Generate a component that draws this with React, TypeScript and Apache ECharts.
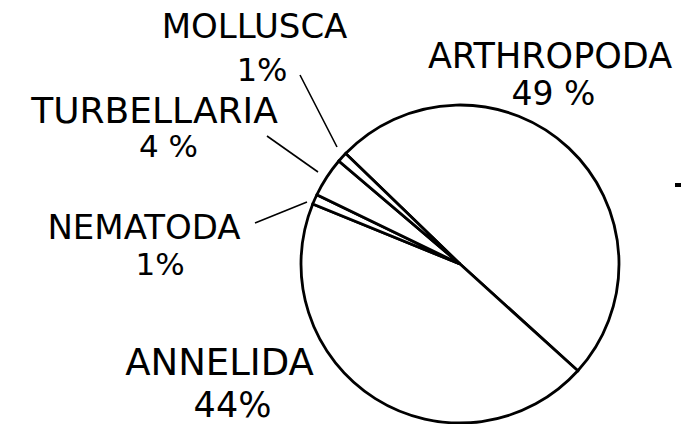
import React, { useEffect, useRef } from "react";
import * as echarts from "echarts";

// ---- data ----
const categories = ["ARTHROPODA", "ANNELIDA", "NEMATODA", "TURBELLARIA", "MOLLUSCA"];
const percents = [49, 44, 1, 4, 1];
const percentGaps = [" ", "", "", " ", ""];

// ---- label layout (annotation positions, not data) ----
type LabelCfg = {
  x: number;
  y: number;
  lh: number;
  nameSize: number;
  pctSize: number;
  pctShift: number;
  line: number[][] | null;
};
const labelCfg: LabelCfg[] = [
  { x: 550, y: 74.5, lh: 38, nameSize: 35, pctSize: 33, pctShift: 3.5, line: null },
  { x: 219.5, y: 383.5, lh: 42, nameSize: 37, pctSize: 35, pctShift: 13, line: null },
  { x: 144, y: 245.5, lh: 36.5, nameSize: 34, pctSize: 31, pctShift: 16, line: [[255, 223], [281, 212.5], [307, 202]] },
  { x: 154.5, y: 128, lh: 36, nameSize: 36, pctSize: 31, pctShift: 14, line: [[267, 136], [292.5, 154], [318, 172]] },
  { x: 254.5, y: 48, lh: 43.5, nameSize: 34, pctSize: 32, pctShift: 7.5, line: [[300, 75], [318.5, 111], [337, 147]] },
];

export default function App() {
  const ref = useRef<HTMLDivElement>(null);
  useEffect(() => {
    if (!ref.current) return;
    const chart = echarts.init(ref.current, undefined, { renderer: "svg" });
    const font = "DejaVu Sans";
    const data = categories.map((name, i) => {
      const c = labelCfg[i];
      return {
        name,
        value: percents[i],
        label: {
          formatter: `{n|${name}}\n{p|${percents[i]}${percentGaps[i]}%}`,
          rich: {
            n: { fontSize: c.nameSize, lineHeight: c.lh, fontFamily: font, color: "#000" },
            p: {
              fontSize: c.pctSize,
              lineHeight: c.lh,
              fontFamily: font,
              color: "#000",
              padding: [0, 0, 0, c.pctShift * 2],
            },
          },
        },
        labelLine: { show: !!c.line },
      };
    });
    chart.setOption({
      animation: false,
      backgroundColor: "#fff",
      graphic: [
        { type: "rect", shape: { x: 675, y: 183, width: 6, height: 4 }, style: { fill: "#000" } },
      ],
      series: [
        {
          type: "pie",
          center: [460, 264],
          radius: 159,
          startAngle: 136,
          clockwise: true,
          avoidLabelOverlap: false,
          silent: true,
          emphasis: { disabled: true },
          itemStyle: { color: "#fff", borderColor: "#000", borderWidth: 2.8, borderJoin: "miter" },
          label: { show: true, position: "outside", color: "#000", fontFamily: font },
          labelLine: { show: true, lineStyle: { color: "#000", width: 1.6 } },
          labelLayout: (params: any) => {
            const c = labelCfg[params.dataIndex];
            const res: any = { x: c.x, y: c.y, align: "center", verticalAlign: "middle" };
            if (c.line) res.labelLinePoints = c.line;
            return res;
          },
          data,
        },
      ],
    });
    return () => chart.dispose();
  }, []);
  return (
    <div
      ref={ref}
      style={{ position: "absolute", left: 0, top: 0, width: 682, height: 424 }}
    />
  );
}
